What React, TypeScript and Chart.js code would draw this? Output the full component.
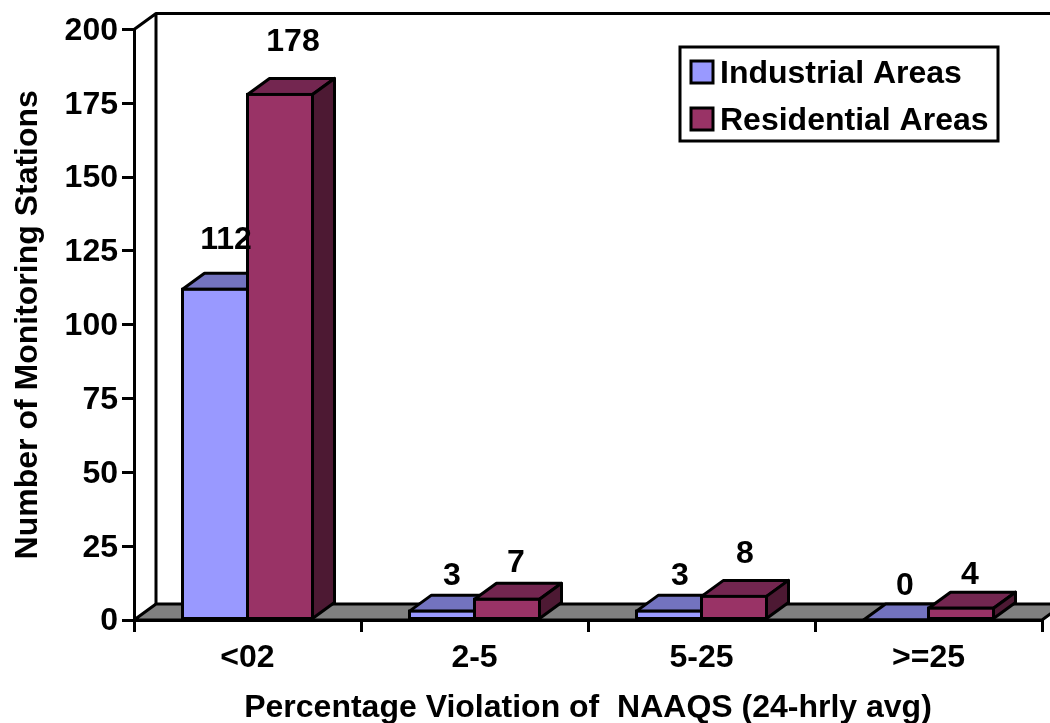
import React, { useEffect, useRef } from "react";
import { Chart, registerables } from "chart.js";

Chart.register(...registerables);

const categories = ["<02", "2-5", "5-25", ">=25"];
const industrialLabel = "Industrial Areas";
const residentialLabel = "Residential Areas";
const industrialValues = [112, 3, 3, 0];
const residentialValues = [178, 7, 8, 4];
const xAxisTitle = "Percentage Violation of  NAAQS (24-hrly avg)";
const yAxisTitle = "Number of Monitoring Stations";

const FONT = "'Liberation Sans', Arial, sans-serif";
const SIZE = 32;
const DX = 22;
const DY = -16;
const LINE = 3;

const faceColors = [
  { top: "#7373BF", side: "#4D4D80", front: "#9999FF" },
  { top: "#732650", side: "#4D1933", front: "#993366" },
];
const labelOffsets = [
  [{ x: 11, y: 49 }, { x: 10, y: 35 }, { x: 11, y: 35 }, { x: 9, y: 34 }],
  [{ x: 13, y: 52 }, { x: 9, y: 36 }, { x: 11, y: 42 }, { x: 9, y: 33 }],
];

function poly(ctx: CanvasRenderingContext2D, pts: number[][], fill?: string) {
  ctx.beginPath();
  pts.forEach((p, i) => (i ? ctx.lineTo(p[0], p[1]) : ctx.moveTo(p[0], p[1])));
  ctx.closePath();
  if (fill) {
    ctx.fillStyle = fill;
    ctx.fill();
  }
  ctx.stroke();
}

const threeD = {
  id: "threeD",
  beforeDatasetsDraw(chart: any) {
    const { ctx, chartArea: a, width } = chart;
    ctx.save();
    ctx.strokeStyle = "#000";
    ctx.lineWidth = LINE;
    ctx.lineJoin = "round";
    poly(ctx, [[a.left, a.bottom], [a.left + DX, a.bottom + DY], [a.right + DX, a.bottom + DY], [a.right, a.bottom]], "#808080");
    ctx.beginPath();
    ctx.moveTo(a.left, a.top);
    ctx.lineTo(a.left + DX, a.top + DY);
    ctx.lineTo(width + 4, a.top + DY);
    ctx.moveTo(a.left + DX, a.top + DY);
    ctx.lineTo(a.left + DX, a.bottom + DY);
    ctx.stroke();
    chart.data.datasets.forEach((_: any, di: number) => {
      chart.getDatasetMeta(di).data.forEach((bar: any) => {
        const p = bar.getProps(["x", "y", "base", "width"], true);
        const l = p.x - p.width / 2;
        const r = p.x + p.width / 2;
        poly(ctx, [[l, p.y], [l + DX, p.y + DY], [r + DX, p.y + DY], [r, p.y]], faceColors[di].top);
        poly(ctx, [[r, p.y], [r + DX, p.y + DY], [r + DX, p.base + DY], [r, p.base]], faceColors[di].side);
      });
    });
    ctx.restore();
  },
  afterDatasetsDraw(chart: any) {
    const { ctx } = chart;
    ctx.save();
    ctx.strokeStyle = "#000";
    ctx.lineWidth = LINE;
    chart.data.datasets.forEach((_: any, di: number) => {
      chart.getDatasetMeta(di).data.forEach((bar: any) => {
        const p = bar.getProps(["x", "y", "base", "width"], true);
        ctx.strokeRect(p.x - p.width / 2, p.y, p.width, p.base - p.y);
      });
    });
    ctx.restore();
  },
  afterDraw(chart: any) {
    const { ctx } = chart;
    ctx.save();
    ctx.font = `bold ${SIZE}px ${FONT}`;
    ctx.fillStyle = "#000";
    ctx.textAlign = "center";
    ctx.textBaseline = "middle";
    chart.data.datasets.forEach((ds: any, di: number) => {
      chart.getDatasetMeta(di).data.forEach((bar: any, i: number) => {
        const p = bar.getProps(["x", "y"], true);
        const o = labelOffsets[di][i];
        ctx.fillText(String(ds.data[i]), p.x + o.x, p.y - o.y);
      });
    });
    ctx.strokeStyle = "#000";
    ctx.lineWidth = LINE;
    ctx.fillStyle = "#fff";
    ctx.fillRect(680, 47, 318, 94);
    ctx.strokeRect(680, 47, 318, 94);
    ctx.textAlign = "left";
    chart.data.datasets.forEach((ds: any, di: number) => {
      const y = 72 + di * 47;
      ctx.fillStyle = faceColors[di].front;
      ctx.fillRect(691, y - 11, 22, 22);
      ctx.strokeRect(691, y - 11, 22, 22);
      ctx.fillStyle = "#000";
      ctx.fillText(ds.label, 720, y + 2);
    });
    ctx.restore();
  },
};

export default function App() {
  const ref = useRef<HTMLCanvasElement>(null);
  useEffect(() => {
    const chart = new Chart(ref.current!, {
      type: "bar",
      data: {
        labels: categories,
        datasets: [
          { label: industrialLabel, data: industrialValues, backgroundColor: faceColors[0].front, borderWidth: 0 },
          { label: residentialLabel, data: residentialValues, backgroundColor: faceColors[1].front, borderWidth: 0 },
        ],
      },
      options: {
        responsive: false,
        animation: false,
        layout: { padding: { top: 29.5, right: 8, left: 0, bottom: 0 } },
        datasets: { bar: { categoryPercentage: 130 / 227, barPercentage: 1 } },
        plugins: { legend: { display: false }, title: { display: false }, tooltip: { enabled: false } },
        scales: {
          x: {
            afterFit: (s: any) => { s.height = 103; },
            grid: { drawOnChartArea: false, color: "#000", tickColor: "#000", tickLength: 12, tickWidth: 3, lineWidth: 3 },
            border: { color: "#000", width: 3 },
            ticks: { color: "#000", font: { family: FONT, size: SIZE, weight: "bold" }, padding: 7, maxRotation: 0 },
            title: { display: true, text: xAxisTitle, color: "#000", font: { family: FONT, size: SIZE, weight: "bold" }, padding: { top: 0, bottom: -4 } },
          },
          y: {
            min: 0,
            max: 200,
            afterFit: (s: any) => { s.width = 134; },
            grid: { drawOnChartArea: false, color: "#000", tickColor: "#000", tickLength: 12, tickWidth: 3, lineWidth: 3 },
            border: { color: "#000", width: 3 },
            ticks: { color: "#000", stepSize: 25, font: { family: FONT, size: SIZE, weight: "bold" }, padding: 4, labelOffset: 1.5 },
            title: { display: true, text: yAxisTitle, color: "#000", font: { family: FONT, size: SIZE, weight: "bold" }, padding: { top: 9, bottom: 0 } },
          },
        },
      } as any,
      plugins: [threeD],
    });
    return () => chart.destroy();
  }, []);
  return <canvas ref={ref} width={1050} height={723} style={{ position: "absolute", left: 0, top: 0, display: "block" }} />;
}
